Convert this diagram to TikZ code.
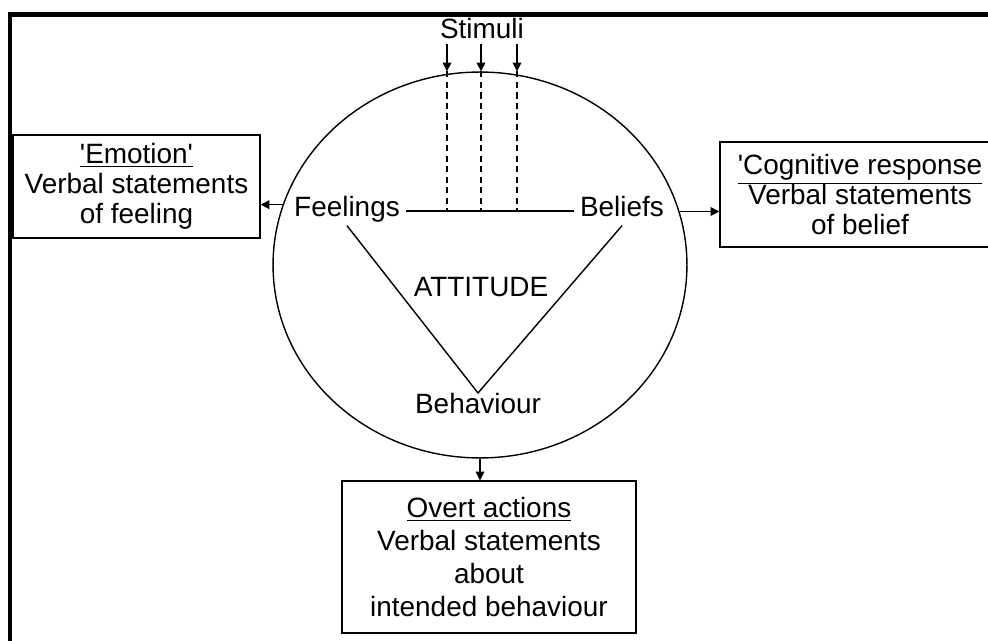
\documentclass[tikz,border=0pt]{standalone}
\usepackage{fontspec}
\setmainfont{Liberation Sans}
\usetikzlibrary{shapes.geometric,arrows.meta}

\begin{document}
\begin{tikzpicture}[x=0.02cm, y=-0.02cm, line width=0.8pt,
  >={Triangle[length=5pt,width=5pt]},
  every node/.style={font=\fontsize{15.9}{17}\selectfont},
  lbl/.style={text height=1.5ex, text depth=.25ex},
  box/.style={draw, align=center, inner sep=0pt},
  stimline/.style={dash pattern=on 3.5pt off 2.5pt}]
\useasboundingbox (0,0) rectangle (988,641);
% frame
\draw[line width=2.3pt] (10,660) -- (10,14.5) -- (1000,14.5);

\node[draw, ellipse, minimum width=8.28cm, minimum height=7.72cm, inner sep=0pt] (circ) at (480,265) {};
\node[lbl, inner sep=1pt] (stim) at (482,33) {Stimuli};
\node[lbl] (feel) at (347,211) {Feelings};
\node[lbl] (bel) at (622,211) {Beliefs};
\node (attl) at (481,287) {ATTITUDE};
\node[lbl] (beh) at (478,408) {Behaviour};
\coordinate (apex) at (478,393);

\node[box, minimum width=4.94cm, minimum height=2.06cm] (emo) at (136.5,186.5)
  {\underline{\textquotesingle Emotion\textquotesingle}\\Verbal statements\\of feeling};
\node[box, minimum width=5.6cm, minimum height=2.1cm] (cog) at (860,194.5)
  {\underline{\textquotesingle Cognitive response}\\Verbal statements\\of belief};
\node[box, minimum width=5.88cm, minimum height=3.04cm, font=\fontsize{15.9}{18.7}\selectfont] (act) at (489,557)
  {\underline{Overt actions}\\Verbal statements\\about\\intended behaviour};

\draw (feel.east) -- (bel.west);
\foreach \x in {447,481,517} {
  \draw[->] (\x,0 |- stim.south) -- (\x,0 |- circ.north);
  \draw[stimline] (\x,0 |- circ.north) -- (\x,0 |- feel.east);
}
\draw (feel.south) -- (apex) -- (bel.south);
\draw[->] (circ.163) -- (circ.163 -| emo.east);
\draw[->] (circ.15) -- (circ.15 -| cog.west);
\draw[->] (circ.south) -- (circ.south |- act.north);
\end{tikzpicture}
\end{document}
